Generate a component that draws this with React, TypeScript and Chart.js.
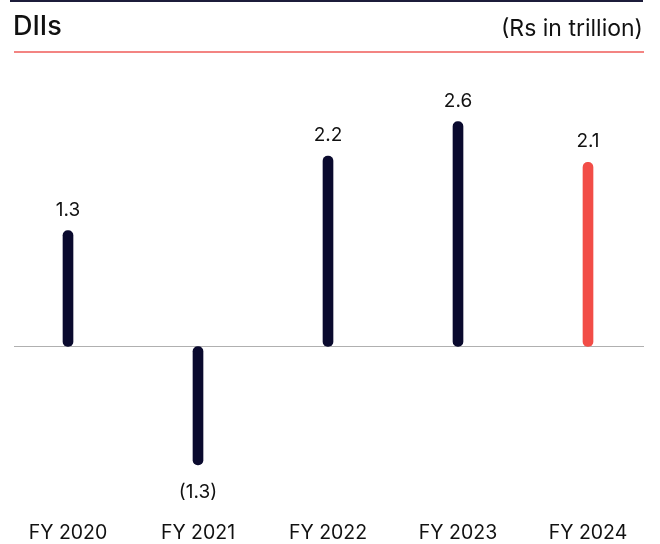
import React, { useEffect, useRef } from "react";
import { Chart, registerables } from "chart.js";
Chart.register(...registerables);

const categories = ["FY 2020", "FY 2021", "FY 2022", "FY 2023", "FY 2024"];
const values = [1.34, -1.37, 2.2, 2.6, 2.13];
const valueLabels = ["1.3", "(1.3)", "2.2", "2.6", "2.1"];
const barColors = ["#0a0a2e", "#0a0a2e", "#0a0a2e", "#0a0a2e", "#f24d47"];
const title = "DIIs";
const unitLabel = "(Rs in trillion)";

const FONT = "Inter, 'Noto Sans', sans-serif";

const decor = {
  id: "decor",
  beforeDatasetsDraw(chart: any) {
    const ctx = chart.ctx;
    const y0 = chart.scales.y.getPixelForValue(0);
    ctx.save();
    ctx.strokeStyle = "#b0b0b0";
    ctx.lineWidth = 1;
    ctx.beginPath();
    ctx.moveTo(14, Math.floor(y0) + 0.5);
    ctx.lineTo(644, Math.floor(y0) + 0.5);
    ctx.stroke();
    ctx.restore();
  },
  afterDraw(chart: any) {
    const ctx = chart.ctx;
    ctx.save();
    // top line
    ctx.strokeStyle = "#1c1c3a";
    ctx.lineWidth = 2;
    ctx.beginPath();
    ctx.moveTo(10, 1);
    ctx.lineTo(643, 1);
    ctx.stroke();
    // red rule
    ctx.strokeStyle = "#f38482";
    ctx.lineWidth = 2;
    ctx.beginPath();
    ctx.moveTo(14, 52);
    ctx.lineTo(644, 52);
    ctx.stroke();
    // title
    ctx.fillStyle = "#111111";
    ctx.textBaseline = "alphabetic";
    ctx.font = `500 27px ${FONT}`;
    ctx.textAlign = "left";
    ctx.fillText(title, 13, 35);
    ctx.font = `400 23px ${FONT}`;
    ctx.textAlign = "right";
    ctx.fillText(unitLabel, 643, 36);
    // value labels and category labels
    const meta = chart.getDatasetMeta(0);
    ctx.textAlign = "center";
    meta.data.forEach((bar: any, i: number) => {
      const v = values[i];
      ctx.font = `400 19px ${FONT}`;
      ctx.fillStyle = "#111111";
      const y = v >= 0 ? bar.y - 15 : bar.y + 33;
      ctx.fillText(valueLabels[i], bar.x, y);
      ctx.font = `400 19.5px ${FONT}`;
      ctx.fillText(categories[i], bar.x, 539);
    });
    ctx.restore();
  },
};

export default function App() {
  const ref = useRef<HTMLCanvasElement>(null);
  useEffect(() => {
    const chart = new Chart(ref.current!, {
      type: "bar",
      data: {
        labels: categories,
        datasets: [
          {
            data: values,
            backgroundColor: barColors,
            barThickness: 10,
            borderRadius: 5,
            borderSkipped: false,
          },
        ],
      },
      options: {
        animation: false,
        responsive: false,
        maintainAspectRatio: false,
        layout: { padding: { left: 3, right: 7, top: 87, bottom: 59.1 } },
        plugins: { legend: { display: false }, tooltip: { enabled: false }, title: { display: false } },
        scales: {
          x: { display: false },
          y: { display: false, min: -1.6, max: 3.0 },
        },
      },
      plugins: [decor],
    });
    return () => chart.destroy();
  }, []);
  return (
    <div style={{ position: "fixed", left: 0, top: 0, width: 660, height: 544, background: "#fff" }}>
      <canvas ref={ref} width={660} height={544} style={{ display: "block" }} />
    </div>
  );
}
